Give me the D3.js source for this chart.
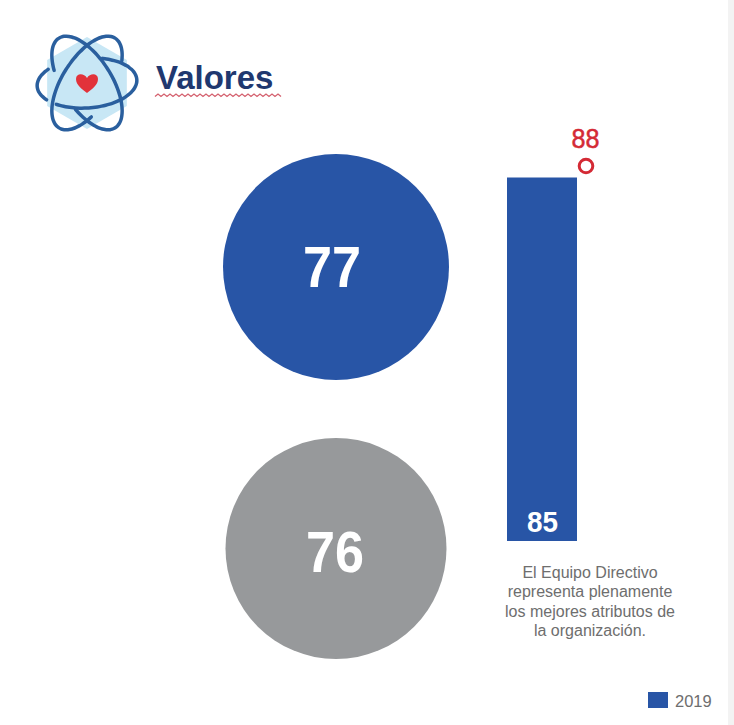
<!DOCTYPE html>
<html lang="en">
<head>
<meta charset="utf-8" />
<title>Valores</title>
<script src="https://cdn.jsdelivr.net/npm/d3@7"></script>
<style>
  html, body { margin: 0; padding: 0; background: white; }
  svg { display: block; }
  text { font-family: "Liberation Sans", Arial, sans-serif; }
</style>
</head>
<body>
<script>
var title = "Valores";
var circleValues = [77, 76];
var circleColors = ["#2855a6", "#97999b"];
var barCategories = ["2019"];
var barValues = [85];
var markerValues = [88];
var noteLines = ["El Equipo Directivo", "representa plenamente", "los mejores atributos de", "la organización."];
var legendLabels = ["2019"];

var w = 734, h = 725;
var blue = "#2855a6", red = "#d42a35", navy = "#20386f", orbit = "#2a5f9e", grey = "#6e6e6e";

var svg = d3.select("body").append("svg")
  .attr("width", w)
  .attr("height", h);

// grey strip down the right edge
svg.append("rect")
  .attr("x", 728).attr("y", 0)
  .attr("width", 6).attr("height", h)
  .attr("fill", "#f3f3f3");

// logo: pale hexagon, three broken orbits, heart
var logo = svg.append("g").attr("transform", "translate(87,83)");
var hex = d3.range(6).map(function(i) {
  var a = Math.PI / 6 + i * Math.PI / 3;
  return [46 * Math.cos(a), 46 * Math.sin(a)];
});
logo.append("path")
  .attr("d", d3.line().curve(d3.curveLinearClosed)(hex))
  .attr("fill", "#c8e7f5");

var orbitLine = d3.line().curve(d3.curveBasis);
function orbitArc(o, from, to) {
  return orbitLine(d3.range(from, to + 1, 5).map(function(t) {
    var r = t * Math.PI / 180;
    return [o.rx * Math.cos(r), o.ry * Math.sin(r)];
  }));
}
// each orbit is cut where another one passes over it
var orbits = [
  { angle: -4, rx: 50, ry: 25, arcs: [[-70, 130], [146, 225]] },
  { angle: 58, rx: 53, ry: 25, arcs: [[122, 432]] },
  { angle: 122, rx: 53, ry: 25, arcs: [[-60, 225]] }
];
orbits.forEach(function(o) {
  var g = logo.append("g").attr("transform", "rotate(" + o.angle + ")");
  o.arcs.forEach(function(arc) {
    g.append("path")
      .attr("d", orbitArc(o, arc[0], arc[1]))
      .attr("fill", "none")
      .attr("stroke", orbit)
      .attr("stroke-width", 3.5)
      .attr("stroke-linecap", "round");
  });
});
logo.append("path")
  .attr("d", "M0,10 C-5,6 -11,2 -11,-4 C-11,-10 -3,-10 0,-5 C3,-10 11,-10 11,-4 C11,2 5,6 0,10Z")
  .attr("fill", "#e2323a");

// title with spell-check squiggle
svg.append("text")
  .attr("x", 156).attr("y", 89)
  .attr("font-size", 33).attr("font-weight", "bold")
  .attr("fill", navy)
  .text(title);
var squiggle = d3.range(155, 283, 3).map(function(x, i) { return [x, i % 2 ? 94 : 96.5]; });
svg.append("path")
  .attr("d", d3.line()(squiggle))
  .attr("fill", "none")
  .attr("stroke", "#d4606e")
  .attr("stroke-width", 1.3);

// circles, value labels
var circlePos = [
  { cx: 336, cy: 267, r: 113, tx: 332, ty: 287 },
  { cx: 336, cy: 548.5, r: 110.5, tx: 335, ty: 572 }
];
svg.append("g").selectAll("circle")
  .data(circleValues)
  .enter()
  .append("circle")
  .attr("cx", function(d, i) { return circlePos[i].cx; })
  .attr("cy", function(d, i) { return circlePos[i].cy; })
  .attr("r", function(d, i) { return circlePos[i].r; })
  .attr("fill", function(d, i) { return circleColors[i]; });
svg.append("g").selectAll("text")
  .data(circleValues)
  .enter()
  .append("text")
  .attr("x", function(d, i) { return circlePos[i].tx; })
  .attr("y", function(d, i) { return circlePos[i].ty; })
  .attr("text-anchor", "middle")
  .attr("font-size", 58).attr("font-weight", "bold")
  .attr("textLength", 58)
  .attr("lengthAdjust", "spacingAndGlyphs")
  .attr("fill", "white")
  .text(function(d) { return d; });

// bar: the axis is not drawn, 85 tops out at y 177.5
var yScale = d3.scaleLinear().domain([0, 85]).range([541, 177.5]);
var xScale = d3.scaleBand().domain(barCategories).range([507, 577]);
svg.append("g").selectAll("rect")
  .data(barValues)
  .enter()
  .append("rect")
  .attr("x", function(d, i) { return xScale(barCategories[i]); })
  .attr("y", function(d) { return yScale(d); })
  .attr("width", xScale.bandwidth())
  .attr("height", function(d) { return yScale(0) - yScale(d); })
  .attr("fill", blue);
svg.append("g").selectAll("text")
  .data(barValues)
  .enter()
  .append("text")
  .attr("x", function(d, i) { return xScale(barCategories[i]) + xScale.bandwidth() / 2 + 0.5; })
  .attr("y", yScale(0) - 9)
  .attr("text-anchor", "middle")
  .attr("font-size", 30).attr("font-weight", "bold")
  .attr("textLength", 31)
  .attr("lengthAdjust", "spacingAndGlyphs")
  .attr("fill", "white")
  .text(function(d) { return d; });

// marker, ring with red label above
var markerY = d3.scaleLinear().domain([85, 88]).range([177.5, 166]);
svg.append("g").selectAll("circle")
  .data(markerValues)
  .enter()
  .append("circle")
  .attr("cx", 586)
  .attr("cy", function(d) { return markerY(d); })
  .attr("r", 6.8)
  .attr("fill", "none")
  .attr("stroke", red)
  .attr("stroke-width", 3);
svg.append("g").selectAll("text")
  .data(markerValues)
  .enter()
  .append("text")
  .attr("x", 585.5)
  .attr("y", 148)
  .attr("text-anchor", "middle")
  .attr("font-size", 27)
  .attr("stroke", red)
  .attr("stroke-width", 0.5)
  .attr("textLength", 28)
  .attr("lengthAdjust", "spacingAndGlyphs")
  .attr("fill", red)
  .text(function(d) { return d; });

// note under the bar
var noteY = [578, 597, 617, 636];
svg.append("g").selectAll("text")
  .data(noteLines)
  .enter()
  .append("text")
  .attr("x", 590)
  .attr("y", function(d, i) { return noteY[i]; })
  .attr("text-anchor", "middle")
  .attr("font-size", 16)
  .attr("fill", grey)
  .text(function(d) { return d; });

// legend
var legend = svg.append("g").selectAll("g")
  .data(legendLabels)
  .enter()
  .append("g");
legend.append("rect")
  .attr("x", 648).attr("y", 692)
  .attr("width", 20).attr("height", 16)
  .attr("fill", blue);
legend.append("text")
  .attr("x", 675).attr("y", 707)
  .attr("font-size", 16.5)
  .attr("fill", grey)
  .text(function(d) { return d; });
</script>
</body>
</html>
